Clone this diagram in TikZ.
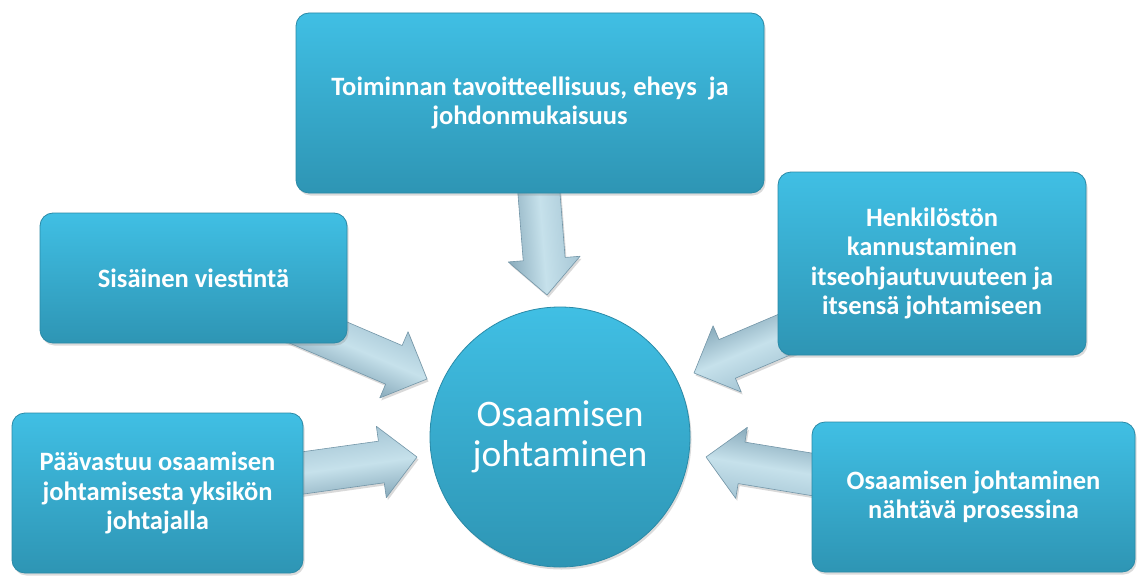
\documentclass[tikz,border=0pt]{standalone}
\usepackage{fontspec}
\setmainfont{Carlito}
\usetikzlibrary{shadows}
\definecolor{boxtop}{HTML}{40BFE4}
\definecolor{boxbot}{HTML}{2E95B4}
\definecolor{boxedge}{HTML}{2A8AA7}
\definecolor{arrlight}{HTML}{C6E1EB}
\definecolor{arrtop}{HTML}{A6C6D5}
\definecolor{arrbot}{HTML}{88AABB}
\definecolor{arredge}{HTML}{7396A8}
\pgfdeclarelayer{bg}
\pgfdeclarelayer{arrows}
\pgfsetlayers{bg,arrows,main}
\tikzset{
  box/.style={rectangle, rounded corners=13pt, top color=boxtop, bottom color=boxbot,
    draw=boxedge, line width=0.8pt, text=white, align=center, inner sep=0pt,
    font=\bfseries\fontsize{26.5}{29.5}\selectfont,
    drop shadow={opacity=0.28, shadow xshift=1.5pt, shadow yshift=-2.5pt}},
  hub/.style={circle, minimum size=260pt, inner sep=0pt, top color=boxtop, bottom color=boxbot,
    draw=boxedge, line width=0.8pt, text=white, align=center,
    font=\fontsize{37.5}{40}\selectfont,
    drop shadow={opacity=0.28, shadow xshift=1.5pt, shadow yshift=-2.5pt}},
  arrowbody/.style={top color=arrtop, bottom color=arrbot, middle color=arrlight,
    draw=arredge, line width=0.6pt, line join=round},
  arrowshadow/.style={fill=black, opacity=0.15}
}
\newcommand\blockarrow[2]{%
  \path (#1); \pgfgetlastxy{\arax}{\aray}%
  \path (#2); \pgfgetlastxy{\arbx}{\arby}%
  \pgfmathsetmacro\arrang{atan2((\arby)-(\aray),(\arbx)-(\arax))}%
  \pgfmathsetmacro\arrlen{veclen((\arbx)-(\arax),(\arby)-(\aray))}%
  \pgfmathsetmacro\arrneck{\arrlen-36}%
  \begin{scope}[transform canvas={shift={(\arax+1.5pt,\aray-2.5pt)},rotate=\arrang}]
    \fill[arrowshadow] (0pt,-21pt) -- (\arrneck pt,-21pt) -- (\arrneck pt,-36pt) -- (\arrlen pt,0pt)
      -- (\arrneck pt,36pt) -- (\arrneck pt,21pt) -- (0pt,21pt) -- cycle;
  \end{scope}
  \begin{scope}[transform canvas={shift={(\arax,\aray)},rotate=\arrang}]
    \shade[arrowbody, shading angle=0] (0pt,-21pt) -- (\arrneck pt,-21pt) -- (\arrneck pt,-36pt) -- (\arrlen pt,0pt)
      -- (\arrneck pt,36pt) -- (\arrneck pt,21pt) -- (0pt,21pt) -- cycle;
  \end{scope}%
}
\begin{document}
\begin{tikzpicture}[x=1pt,y=-1pt]
\useasboundingbox (0,0) rectangle (1139,575);
\begin{pgfonlayer}{bg}
  \fill[white] (0,0) rectangle (1139,575);
\end{pgfonlayer}

\node[box, minimum width=468pt, minimum height=180pt] (top) at (530,103)
  {Toiminnan tavoitteellisuus, eheys\ \ ja\\johdonmukaisuus};
\node[box, minimum width=307pt, minimum height=130pt] (lm) at (193.5,278)
  {Sisäinen viestintä};
\node[box, minimum width=291pt, minimum height=160pt] (lb) at (157.5,493)
  {Päävastuu osaamisen\\johtamisesta yksikön\\johtajalla};
\node[box, minimum width=308pt, minimum height=183pt] (rm) at (932,263.5)
  {Henkilöstön\\kannustaminen\\itseohjautuvuuteen ja\\itsensä johtamiseen};
\node[box, minimum width=323pt, minimum height=150pt] (rb) at (973.5,497)
  {Osaamisen johtaminen\\nähtävä prosessina};
\node[hub] (hub) at (560,437) {Osaamisen\\johtaminen};

\coordinate (a1s) at (537.5,175);
\coordinate (a1e) at (547,295);
\coordinate (a2s) at (289,320);
\coordinate (a2e) at (427,379);
\coordinate (a3s) at (288,475);
\coordinate (a3e) at (417,457);
\coordinate (a4s) at (814,322);
\coordinate (a4e) at (694,373);
\coordinate (a5s) at (834,478);
\coordinate (a5e) at (706,457);

\begin{pgfonlayer}{arrows}
  \blockarrow{a1s}{a1e}
  \blockarrow{a2s}{a2e}
  \blockarrow{a3s}{a3e}
  \blockarrow{a4s}{a4e}
  \blockarrow{a5s}{a5e}
\end{pgfonlayer}
\end{tikzpicture}
\end{document}
